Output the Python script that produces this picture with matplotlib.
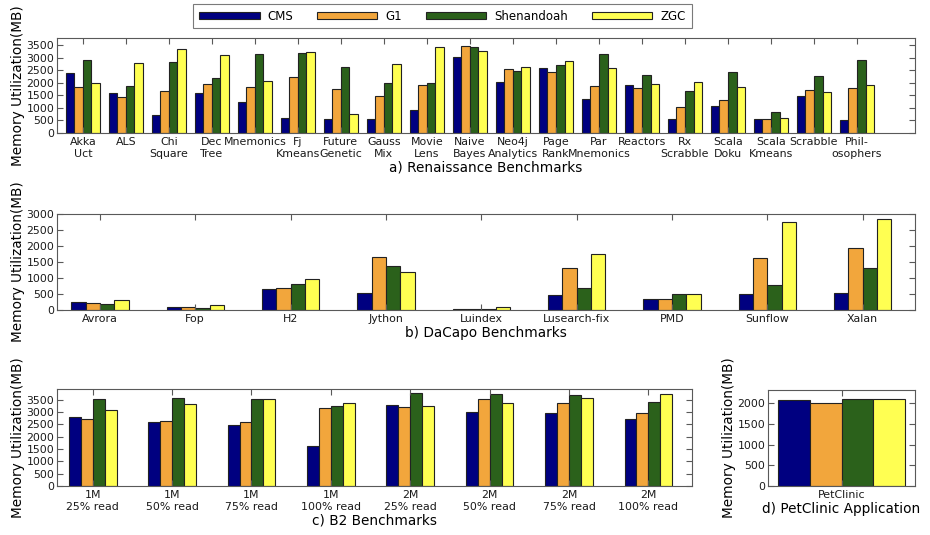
import numpy as np
import matplotlib
matplotlib.use('Agg')
import matplotlib.pyplot as plt

# Сбор данных (MB)
gcs = ['CMS', 'G1', 'Shenandoah', 'ZGC']
colors = ['#000080', '#F2A63C', '#2B611B', '#FFFF52']

ren_names = ['Akka\nUct', 'ALS', 'Chi\nSquare', 'Dec\nTree', 'Mnemonics', 'Fj\nKmeans',
             'Future\nGenetic', 'Gauss\nMix', 'Movie\nLens', 'Naive\nBayes',
             'Neo4j\nAnalytics', 'Page\nRank', 'Par\nMnemonics', 'Reactors',
             'Rx\nScrabble', 'Scala\nDoku', 'Scala\nKmeans', 'Scrabble', 'Phil-\nosophers']
ren_cms = [2390, 1600, 720, 1590, 1230, 600, 550, 550, 900, 3030,
           2030, 2610, 1360, 1920, 550, 1080, 550, 1470, 520]
ren_g1 = [1830, 1450, 1670, 1960, 1850, 2230, 1760, 1480, 1920, 3480,
          2570, 2450, 1870, 1800, 1040, 1320, 560, 1720, 1790]
ren_shen = [2920, 1880, 2840, 2180, 3150, 3200, 2640, 1990, 2000, 3430,
            2480, 2710, 3150, 2320, 1670, 2440, 850, 2280, 2930]
ren_zgc = [2000, 2810, 3360, 3120, 2080, 3230, 760, 2770, 3430, 3270,
           2630, 2870, 2600, 1950, 2030, 1840, 600, 1640, 1910]

dacapo_names = ['Avrora', 'Fop', 'H2', 'Jython', 'Luindex', 'Lusearch-fix', 'PMD', 'Sunflow', 'Xalan']
dacapo_cms = [250, 95, 670, 530, 40, 460, 340, 500, 520]
dacapo_g1 = [210, 90, 700, 1660, 20, 1300, 330, 1620, 1930]
dacapo_shen = [180, 60, 820, 1380, 20, 700, 510, 780, 1310]
dacapo_zgc = [300, 170, 980, 1180, 90, 1740, 510, 2760, 2840]

b2_names = ['1M\n25% read', '1M\n50% read', '1M\n75% read', '1M\n100% read',
            '2M\n25% read', '2M\n50% read', '2M\n75% read', '2M\n100% read']
b2_cms = [2800, 2590, 2480, 1640, 3300, 2990, 2940, 2730]
b2_g1 = [2710, 2630, 2580, 3160, 3220, 3540, 3370, 2960]
b2_shen = [3540, 3570, 3540, 3240, 3760, 3730, 3690, 3410]
b2_zgc = [3090, 3340, 3540, 3370, 3260, 3350, 3580, 3730]

pet_names = ['PetClinic']
pet_cms = [2080]
pet_g1 = [2010]
pet_shen = [2100]
pet_zgc = [2110]

plt.rcParams['xtick.direction'] = 'in'
plt.rcParams['ytick.direction'] = 'in'
plt.rcParams['xtick.top'] = True
plt.rcParams['ytick.right'] = True
plt.rcParams['xtick.major.size'] = 4
plt.rcParams['ytick.major.size'] = 4
plt.rcParams['axes.edgecolor'] = '0.35'
plt.rcParams['xtick.color'] = '0.35'
plt.rcParams['ytick.color'] = '0.35'
plt.rcParams['xtick.labelcolor'] = '0.1'
plt.rcParams['ytick.labelcolor'] = '0.1'

fig = plt.figure(figsize=(9.3, 5.35), dpi=100)


def panel(rect, names, series, width, xlim, ylim, yticks, xlabel):
    ax = fig.add_axes(rect)
    ind = np.arange(len(names))
    bars = []
    for i, vals in enumerate(series):
        b = ax.bar(ind + i * width, vals, width, align='edge', color=colors[i],
                   edgecolor='#222222', linewidth=0.8, label=gcs[i])
        bars.append(b)
    ax.set_xticks(ind + 2 * width)
    ax.set_xticklabels(names, fontsize=7.9)
    ax.set_xlim(*xlim)
    ax.set_ylim(*ylim)
    ax.set_yticks(yticks)
    ax.tick_params(axis='y', labelsize=7.8, pad=2)
    ax.tick_params(axis='x', pad=3)
    ax.set_xlabel(xlabel, fontsize=9.8, labelpad=1)
    ax.set_ylabel('Memory Utilization(MB)', fontsize=9.8, labelpad=1)
    return ax, bars


ax_a, bars = panel([0.0613, 0.7514, 0.9226, 0.1776], ren_names,
                   [ren_cms, ren_g1, ren_shen, ren_zgc], 0.2, (-0.2, 19.75), (0, 3800),
                   range(0, 4000, 500), 'a) Renaissance Benchmarks')
ax_b, _ = panel([0.0613, 0.4206, 0.9226, 0.1794], dacapo_names,
                [dacapo_cms, dacapo_g1, dacapo_shen, dacapo_zgc], 0.15, (-0.15, 8.85), (0, 3000),
                range(0, 3500, 500), 'b) DaCapo Benchmarks')
ax_c, _ = panel([0.0613, 0.0916, 0.6828, 0.1813], b2_names,
                [b2_cms, b2_g1, b2_shen, b2_zgc], 0.15, (-0.15, 7.85), (0, 3930),
                range(0, 4000, 500), 'c) B2 Benchmarks')
ax_d, _ = panel([0.8258, 0.0916, 0.1581, 0.1794], pet_names,
                [pet_cms, pet_g1, pet_shen, pet_zgc], 0.2, (-0.063, 0.863), (0, 2320),
                range(0, 2500, 500), 'd) PetClinic Application')

leg = fig.legend(bars, gcs, loc='center', bbox_to_anchor=(0.4758, 0.970), ncol=4,
                 fontsize=8.5, handlelength=5.1, handleheight=0.55, handletextpad=0.7,
                 columnspacing=2.0, borderpad=0.5, fancybox=False)
leg.get_frame().set_edgecolor('0.35')
leg.get_frame().set_linewidth(0.8)

fig.savefig('out.png', dpi=100)
